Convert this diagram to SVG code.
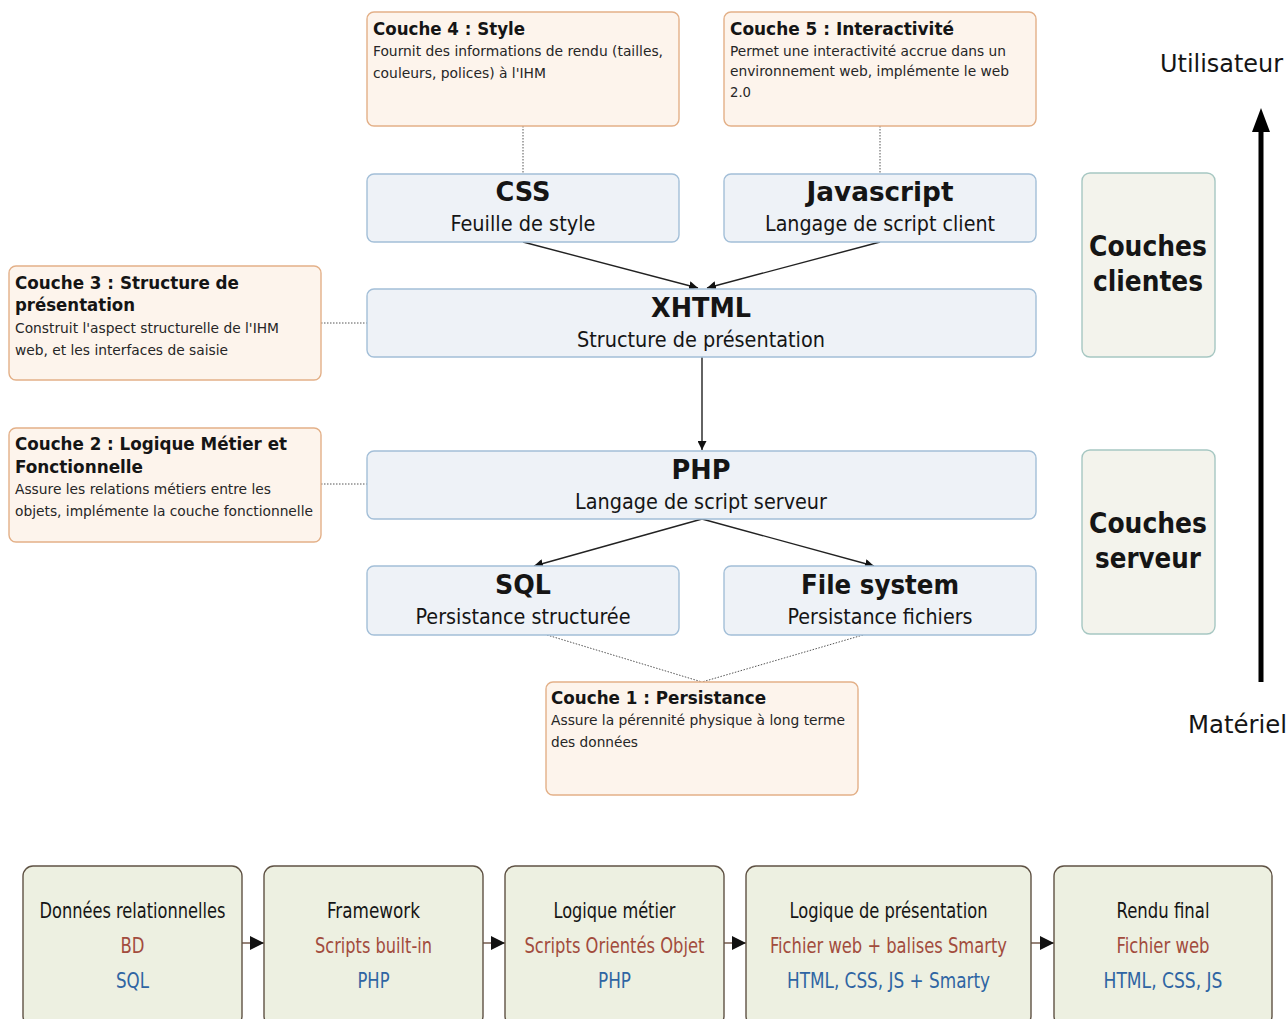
<svg xmlns="http://www.w3.org/2000/svg" width="1287" height="1019" viewBox="0 0 1287 1019">
  <style>
    text { font-family: 'DejaVu Sans Condensed', 'DejaVu Sans', sans-serif; font-stretch: condensed; fill: #151515; }
    .note { fill: #fdf4ec; stroke: #e3b088; stroke-width: 1.4; }
    .tech { fill: #eef2f7; stroke: #a3bfd8; stroke-width: 1.4; }
    .side { fill: #f3f3ec; stroke: #a6c7c2; stroke-width: 1.4; }
    .step { fill: #edf0e1; stroke: #5f5244; stroke-width: 1.4; }
    .nt { font-size: 17px; font-weight: bold; }
    .nb { font-size: 14px; fill: #262626; }
    .tt { font-size: 27px; font-weight: bold; text-anchor: middle; }
    .ts { font-size: 21px; text-anchor: middle; }
    .st { font-size: 28px; font-weight: bold; text-anchor: middle; }
    .ax { font-size: 25px; }
    .b1 { font-size: 21px; text-anchor: middle; }
    .b2 { font-size: 21px; text-anchor: middle; fill: #a24c3d; }
    .b3 { font-size: 21px; text-anchor: middle; fill: #2f65a3; }
    .dot { stroke: #555; stroke-width: 1; stroke-dasharray: 1.5 1.5; fill: none; }
    .arr { stroke: #222; stroke-width: 1.4; fill: none; marker-end: url(#head); }
  </style>
  <defs>
    <marker id="head" viewBox="0 0 10 10" refX="10" refY="5" markerWidth="9" markerHeight="9" markerUnits="userSpaceOnUse" orient="auto">
      <path d="M0,0 L10,5 L0,10 z" fill="#111"/>
    </marker>
    <marker id="stepHead" viewBox="0 0 10 10" refX="10" refY="5" markerWidth="14" markerHeight="14" markerUnits="userSpaceOnUse" orient="auto">
      <path d="M0,0 L10,5 L0,10 z" fill="#111"/>
    </marker>
  </defs>
  <rect width="1287" height="1019" fill="#ffffff"/>

  <!-- connectors -->
  <g id="connectors">
    <line class="dot" x1="523" y1="126" x2="523" y2="174"/>
    <line class="dot" x1="880" y1="126" x2="880" y2="174"/>
    <line class="dot" x1="321" y1="323" x2="367" y2="323"/>
    <line class="dot" x1="321" y1="484" x2="367" y2="484"/>
    <line class="dot" x1="547" y1="635" x2="702" y2="682"/>
    <line class="dot" x1="863" y1="635" x2="702" y2="682"/>
    <line class="arr" x1="523" y1="242" x2="698" y2="288"/>
    <line class="arr" x1="880" y1="242" x2="707" y2="288"/>
    <line class="arr" x1="702" y1="357" x2="702" y2="450"/>
    <line class="arr" x1="702" y1="519" x2="534" y2="566"/>
    <line class="arr" x1="702" y1="519" x2="874" y2="566"/>
    <!-- user / hardware axis -->
    <line x1="1261" y1="682" x2="1261" y2="128" stroke="#000" stroke-width="5"/>
    <path d="M1261,108 L1252,132 L1270,132 z" fill="#000"/>
    <!-- pipeline arrows -->
    <line x1="242" y1="943" x2="264" y2="943" stroke="#6a5040" stroke-width="1.4" marker-end="url(#stepHead)"/>
    <line x1="483" y1="943" x2="505" y2="943" stroke="#6a5040" stroke-width="1.4" marker-end="url(#stepHead)"/>
    <line x1="724" y1="943" x2="746" y2="943" stroke="#6a5040" stroke-width="1.4" marker-end="url(#stepHead)"/>
    <line x1="1031" y1="943" x2="1054" y2="943" stroke="#6a5040" stroke-width="1.4" marker-end="url(#stepHead)"/>
  </g>

  <!-- layer notes -->
  <g id="couche4">
    <rect class="note" x="367" y="12" width="312" height="114" rx="7"/>
    <text class="nt" x="373" y="35" textLength="152" lengthAdjust="spacingAndGlyphs">Couche 4 : Style</text>
    <text class="nb" x="373" y="56" textLength="290" lengthAdjust="spacingAndGlyphs">Fournit des informations de rendu (tailles,</text>
    <text class="nb" x="373" y="78" textLength="173" lengthAdjust="spacingAndGlyphs">couleurs, polices) à l'IHM</text>
  </g>
  <g id="couche5">
    <rect class="note" x="724" y="12" width="312" height="114" rx="7"/>
    <text class="nt" x="730" y="35" textLength="224" lengthAdjust="spacingAndGlyphs">Couche 5 : Interactivité</text>
    <text class="nb" x="730" y="56" textLength="276" lengthAdjust="spacingAndGlyphs">Permet une interactivité accrue dans un</text>
    <text class="nb" x="730" y="76" textLength="279" lengthAdjust="spacingAndGlyphs">environnement web, implémente le web</text>
    <text class="nb" x="730" y="97" textLength="21" lengthAdjust="spacingAndGlyphs">2.0</text>
  </g>
  <g id="couche3">
    <rect class="note" x="9" y="266" width="312" height="114" rx="7"/>
    <text class="nt" x="15" y="289" textLength="224" lengthAdjust="spacingAndGlyphs">Couche 3 : Structure de</text>
    <text class="nt" x="15" y="311" textLength="120" lengthAdjust="spacingAndGlyphs">présentation</text>
    <text class="nb" x="15" y="333" textLength="264" lengthAdjust="spacingAndGlyphs">Construit l'aspect structurelle de l'IHM</text>
    <text class="nb" x="15" y="355" textLength="213" lengthAdjust="spacingAndGlyphs">web, et les interfaces de saisie</text>
  </g>
  <g id="couche2">
    <rect class="note" x="9" y="428" width="312" height="114" rx="7"/>
    <text class="nt" x="15" y="450" textLength="272" lengthAdjust="spacingAndGlyphs">Couche 2 : Logique Métier et</text>
    <text class="nt" x="15" y="473" textLength="128" lengthAdjust="spacingAndGlyphs">Fonctionnelle</text>
    <text class="nb" x="15" y="494" textLength="256" lengthAdjust="spacingAndGlyphs">Assure les relations métiers entre les</text>
    <text class="nb" x="15" y="516" textLength="298" lengthAdjust="spacingAndGlyphs">objets, implémente la couche fonctionnelle</text>
  </g>
  <g id="couche1">
    <rect class="note" x="546" y="682" width="312" height="113" rx="7"/>
    <text class="nt" x="551" y="704" textLength="215" lengthAdjust="spacingAndGlyphs">Couche 1 : Persistance</text>
    <text class="nb" x="551" y="725" textLength="294" lengthAdjust="spacingAndGlyphs">Assure la pérennité physique à long terme</text>
    <text class="nb" x="551" y="747" textLength="87" lengthAdjust="spacingAndGlyphs">des données</text>
  </g>

  <!-- technologies -->
  <g id="css">
    <rect class="tech" x="367" y="174" width="312" height="68" rx="7"/>
    <text class="tt" x="523" y="201" textLength="55" lengthAdjust="spacingAndGlyphs">CSS</text>
    <text class="ts" x="523" y="231" textLength="145" lengthAdjust="spacingAndGlyphs">Feuille de style</text>
  </g>
  <g id="javascript">
    <rect class="tech" x="724" y="174" width="312" height="68" rx="7"/>
    <text class="tt" x="880" y="201" textLength="147" lengthAdjust="spacingAndGlyphs">Javascript</text>
    <text class="ts" x="880" y="231" textLength="230" lengthAdjust="spacingAndGlyphs">Langage de script client</text>
  </g>
  <g id="xhtml">
    <rect class="tech" x="367" y="289" width="669" height="68" rx="7"/>
    <text class="tt" x="701" y="317" textLength="100" lengthAdjust="spacingAndGlyphs">XHTML</text>
    <text class="ts" x="701" y="347" textLength="248" lengthAdjust="spacingAndGlyphs">Structure de présentation</text>
  </g>
  <g id="php">
    <rect class="tech" x="367" y="451" width="669" height="68" rx="7"/>
    <text class="tt" x="701" y="479" textLength="59" lengthAdjust="spacingAndGlyphs">PHP</text>
    <text class="ts" x="701" y="509" textLength="252" lengthAdjust="spacingAndGlyphs">Langage de script serveur</text>
  </g>
  <g id="sql">
    <rect class="tech" x="367" y="566" width="312" height="69" rx="7"/>
    <text class="tt" x="523" y="594" textLength="56" lengthAdjust="spacingAndGlyphs">SQL</text>
    <text class="ts" x="523" y="624" textLength="215" lengthAdjust="spacingAndGlyphs">Persistance structurée</text>
  </g>
  <g id="filesystem">
    <rect class="tech" x="724" y="566" width="312" height="69" rx="7"/>
    <text class="tt" x="880" y="594" textLength="158" lengthAdjust="spacingAndGlyphs">File system</text>
    <text class="ts" x="880" y="624" textLength="185" lengthAdjust="spacingAndGlyphs">Persistance fichiers</text>
  </g>

  <!-- tiers -->
  <g id="couches-clientes">
    <rect class="side" x="1082" y="173" width="133" height="184" rx="8"/>
    <text class="st" x="1148" y="256" textLength="118" lengthAdjust="spacingAndGlyphs">Couches</text>
    <text class="st" x="1148" y="291" textLength="110" lengthAdjust="spacingAndGlyphs">clientes</text>
  </g>
  <g id="couches-serveur">
    <rect class="side" x="1082" y="450" width="133" height="184" rx="8"/>
    <text class="st" x="1148" y="533" textLength="118" lengthAdjust="spacingAndGlyphs">Couches</text>
    <text class="st" x="1148" y="568" textLength="106" lengthAdjust="spacingAndGlyphs">serveur</text>
  </g>
  <g id="axe">
    <text class="ax" x="1160" y="72" textLength="123" lengthAdjust="spacingAndGlyphs">Utilisateur</text>
    <text class="ax" x="1188" y="733" textLength="99" lengthAdjust="spacingAndGlyphs">Matériel</text>
  </g>

  <!-- production pipeline -->
  <g id="etape-donnees">
    <rect class="step" x="23" y="866" width="219" height="160" rx="10"/>
    <text class="b1" x="132.5" y="918" textLength="186" lengthAdjust="spacingAndGlyphs">Données relationnelles</text>
    <text class="b2" x="132.5" y="953" textLength="24" lengthAdjust="spacingAndGlyphs">BD</text>
    <text class="b3" x="132.5" y="988" textLength="33" lengthAdjust="spacingAndGlyphs">SQL</text>
  </g>
  <g id="etape-framework">
    <rect class="step" x="264" y="866" width="219" height="160" rx="10"/>
    <text class="b1" x="373.5" y="918" textLength="93" lengthAdjust="spacingAndGlyphs">Framework</text>
    <text class="b2" x="373.5" y="953" textLength="117" lengthAdjust="spacingAndGlyphs">Scripts built-in</text>
    <text class="b3" x="373.5" y="988" textLength="32" lengthAdjust="spacingAndGlyphs">PHP</text>
  </g>
  <g id="etape-metier">
    <rect class="step" x="505" y="866" width="219" height="160" rx="10"/>
    <text class="b1" x="614.5" y="918" textLength="122" lengthAdjust="spacingAndGlyphs">Logique métier</text>
    <text class="b2" x="614.5" y="953" textLength="180" lengthAdjust="spacingAndGlyphs">Scripts Orientés Objet</text>
    <text class="b3" x="614.5" y="988" textLength="33" lengthAdjust="spacingAndGlyphs">PHP</text>
  </g>
  <g id="etape-presentation">
    <rect class="step" x="746" y="866" width="285" height="160" rx="10"/>
    <text class="b1" x="888.5" y="918" textLength="198" lengthAdjust="spacingAndGlyphs">Logique de présentation</text>
    <text class="b2" x="888.5" y="953" textLength="237" lengthAdjust="spacingAndGlyphs">Fichier web + balises Smarty</text>
    <text class="b3" x="888.5" y="988" textLength="203" lengthAdjust="spacingAndGlyphs">HTML, CSS, JS + Smarty</text>
  </g>
  <g id="etape-rendu">
    <rect class="step" x="1054" y="866" width="218" height="160" rx="10"/>
    <text class="b1" x="1163" y="918" textLength="93" lengthAdjust="spacingAndGlyphs">Rendu final</text>
    <text class="b2" x="1163" y="953" textLength="93" lengthAdjust="spacingAndGlyphs">Fichier web</text>
    <text class="b3" x="1163" y="988" textLength="119" lengthAdjust="spacingAndGlyphs">HTML, CSS, JS</text>
  </g>
</svg>
